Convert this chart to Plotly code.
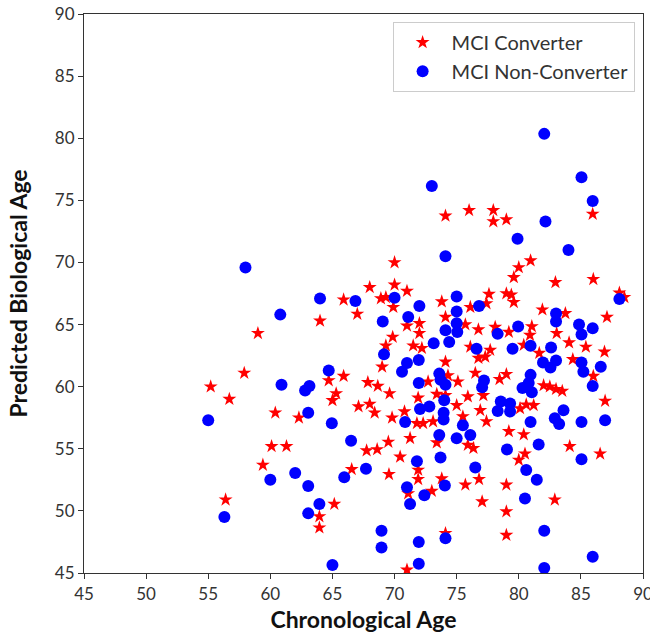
import plotly.graph_objects as go

# MCI converters: chronological age vs. predicted biological age
conv_age = [59.0, 57.9, 55.2, 56.7, 60.4, 60.1, 61.3, 59.4, 56.4, 62.3,
            64.0, 65.9, 67.0, 68.0, 70.0, 70.0, 71.0, 68.9, 69.3, 69.9,
            71.0, 72.0, 72.0, 73.8, 74.1, 75.7, 76.1, 76.75, 69.85, 69.3,
            71.5, 72.2, 76.1, 76.75, 77.3, 69.0, 74.1, 74.3, 72.7, 75.1,
            76.5, 65.9, 64.7, 67.85, 68.65, 69.6, 65.3, 65.0, 67.1, 68.0,
            68.4, 69.8, 70.8, 71.9, 73.4, 74.1, 75.9, 75.0, 77.15, 76.9,
            71.8, 72.3, 73.1, 75.5, 77.4, 71.25, 73.4, 75.9, 76.35, 67.75,
            68.6, 69.5, 70.45, 71.9, 71.9, 73.8, 75.7, 76.8, 79.0, 71.1,
            73.0, 66.55, 69.55, 65.15, 63.95, 63.95, 74.1, 71.0, 77.05, 79.0,
            79.0, 82.9, 80.0, 80.5, 79.2, 80.4, 80.1, 80.6, 81.2, 84.1,
            86.55, 86.95, 86.0, 82.0, 82.5, 83.0, 83.5, 78.45, 79.0, 77.7,
            80.4, 81.65, 84.35, 84.05, 85.4, 86.9, 83.05, 80.9, 81.05, 79.2,
            78.1, 83.75, 81.9, 87.1, 77.6, 79.0, 79.4, 79.6, 77.4, 88.1,
            88.5, 86.0, 82.95, 79.6, 80.0, 80.95, 76.0, 77.95, 77.95, 79.0,
            85.95, 74.1]
conv_pred = [64.3, 61.1, 60.0, 59.0, 57.9, 55.2, 55.2, 53.7, 50.9, 57.5,
             65.3, 67.0, 65.85, 68.0, 70.0, 68.2, 67.7, 67.1, 67.2, 66.4,
             64.9, 65.1, 64.3, 66.85, 65.6, 65.0, 66.4, 64.6, 64.0, 63.3,
             63.3, 63.1, 63.2, 62.3, 62.4, 61.6, 62.0, 60.9, 60.4, 60.4,
             61.1, 60.85, 60.5, 60.35, 60.05, 59.45, 59.45, 58.9, 58.4, 58.6,
             57.9, 57.5, 58.0, 59.1, 59.4, 59.3, 59.2, 58.5, 59.3, 58.1,
             57.05, 57.05, 57.2, 57.6, 57.2, 55.85, 55.5, 55.3, 55.05, 54.85,
             54.95, 55.55, 54.35, 53.3, 52.55, 52.6, 52.1, 52.55, 52.1, 51.4,
             51.6, 53.35, 52.95, 50.55, 49.55, 48.65, 48.2, 45.25, 50.75, 49.95,
             48.05, 50.9, 54.1, 54.6, 56.4, 56.15, 58.25, 58.55, 58.5, 55.2,
             54.6, 58.85, 60.85, 60.1, 60.0, 59.8, 59.65, 60.6, 61.0, 62.95,
             63.35, 62.7, 62.2, 63.55, 63.2, 62.8, 64.3, 64.15, 64.85, 64.4,
             64.8, 65.9, 66.2, 65.6, 67.45, 67.5, 67.4, 66.8, 66.7, 67.55,
             67.2, 68.65, 68.4, 68.8, 69.6, 70.15, 74.2, 74.2, 73.3, 73.45,
             73.9, 73.75]

# MCI non-converters
nonconv_age = [58.0, 60.8, 60.9, 55.0, 60.0, 56.3, 73.0, 74.1, 64.0, 66.85,
               70.0, 72.0, 75.0, 75.0, 69.05, 71.1, 75.0, 74.1, 75.05, 73.15,
               74.4, 69.15, 71.0, 71.95, 70.6, 64.7, 62.8, 63.15, 71.95, 73.6,
               73.7, 74.1, 63.05, 64.95, 70.85, 72.05, 72.8, 74.0, 73.95, 73.95,
               75.5, 75.0, 76.1, 73.6, 66.5, 71.8, 73.7, 74.05, 71.0, 72.4,
               71.25, 62.0, 63.05, 67.7, 65.95, 63.95, 63.05, 68.95, 68.95, 74.1,
               71.95, 71.95, 65.0, 82.05, 85.05, 85.95, 82.15, 79.9, 84.0, 88.1,
               76.8, 83.0, 83.0, 84.85, 85.05, 85.95, 79.95, 78.3, 80.95, 79.5,
               82.6, 76.6, 81.95, 83.0, 85.05, 85.2, 86.6, 82.55, 85.95, 86.95,
               85.05, 85.05, 83.6, 82.9, 83.25, 80.95, 80.8, 80.3, 81.05, 77.2,
               77.05, 78.55, 78.3, 79.3, 79.3, 80.95, 79.05, 81.6, 80.6, 81.45,
               80.5, 76.5, 82.05, 85.95, 82.05]
nonconv_pred = [69.6, 65.8, 60.15, 57.3, 52.5, 49.5, 76.15, 70.5, 67.1, 66.9,
                67.15, 66.5, 67.25, 66.05, 65.25, 65.6, 65.1, 64.55, 64.4, 63.5,
                63.6, 62.6, 61.9, 62.15, 61.2, 61.3, 59.7, 60.05, 60.3, 61.05,
                60.55, 60.15, 57.9, 57.05, 57.15, 58.2, 58.4, 58.9, 57.9, 57.35,
                56.9, 55.85, 56.1, 56.1, 55.65, 54.0, 54.3, 52.05, 51.9, 51.25,
                50.55, 53.05, 52.0, 53.4, 52.7, 50.55, 49.8, 48.4, 47.05, 47.8,
                47.5, 45.75, 45.65, 80.35, 76.85, 74.95, 73.3, 71.9, 71.0, 67.05,
                66.5, 65.9, 65.25, 65.0, 64.2, 64.7, 64.85, 64.25, 63.3, 63.05,
                63.15, 63.05, 61.95, 62.1, 61.95, 61.2, 61.6, 61.55, 60.05, 57.3,
                57.15, 54.15, 58.1, 57.45, 57.0, 60.95, 60.3, 59.9, 59.55, 60.5,
                59.95, 58.8, 58.05, 58.65, 58.0, 57.15, 54.95, 55.35, 53.3, 52.5,
                51.0, 53.5, 48.4, 46.3, 45.4]

x_ticks = [45, 50, 55, 60, 65, 70, 75, 80, 85, 90]
y_ticks = [45, 50, 55, 60, 65, 70, 75, 80, 85, 90]

fig = go.Figure()
fig.add_trace(go.Scatter(
    x=conv_age, y=conv_pred, mode="markers", name="MCI Converter",
    marker=dict(symbol="star", size=10.5, color="#ff0000", line=dict(width=0)),
))
fig.add_trace(go.Scatter(
    x=nonconv_age, y=nonconv_pred, mode="markers", name="MCI Non-Converter",
    marker=dict(symbol="circle", size=12, color="#0000ff", line=dict(width=0)),
))

axis_common = dict(
    showgrid=False, zeroline=False, showline=True, mirror=True,
    linecolor="#333333", linewidth=1.2, ticks="outside", ticklen=5,
    tickcolor="#333333", ticklabeloverflow="allow", automargin=False,
    tickfont=dict(family="Lato, sans-serif", size=17, color="#333333"),
)

title_font = dict(family="Lato, sans-serif", size=23, color="#111111")

fig.update_layout(
    width=650, height=636,
    margin=dict(l=84, r=7, t=14, b=63, autoexpand=False),
    paper_bgcolor="white", plot_bgcolor="white",
    showlegend=True,
    legend=dict(
        x=0.985, y=0.986, xanchor="right", yanchor="top",
        bgcolor="white", bordercolor="#cccccc", borderwidth=1,
        font=dict(family="Lato, sans-serif", size=20, color="#333333"),
        itemwidth=48,
    ),
    xaxis=dict(
        range=[45, 90], tickvals=x_ticks,
        title=dict(text="<b>Chronological Age</b>", standoff=9, font=title_font),
        **axis_common,
    ),
    yaxis=dict(
        range=[45, 90], tickvals=y_ticks,
        title=dict(text="<b>Predicted Biological Age</b>", standoff=20, font=title_font),
        **axis_common,
    ),
)

fig.write_html("out.html")
